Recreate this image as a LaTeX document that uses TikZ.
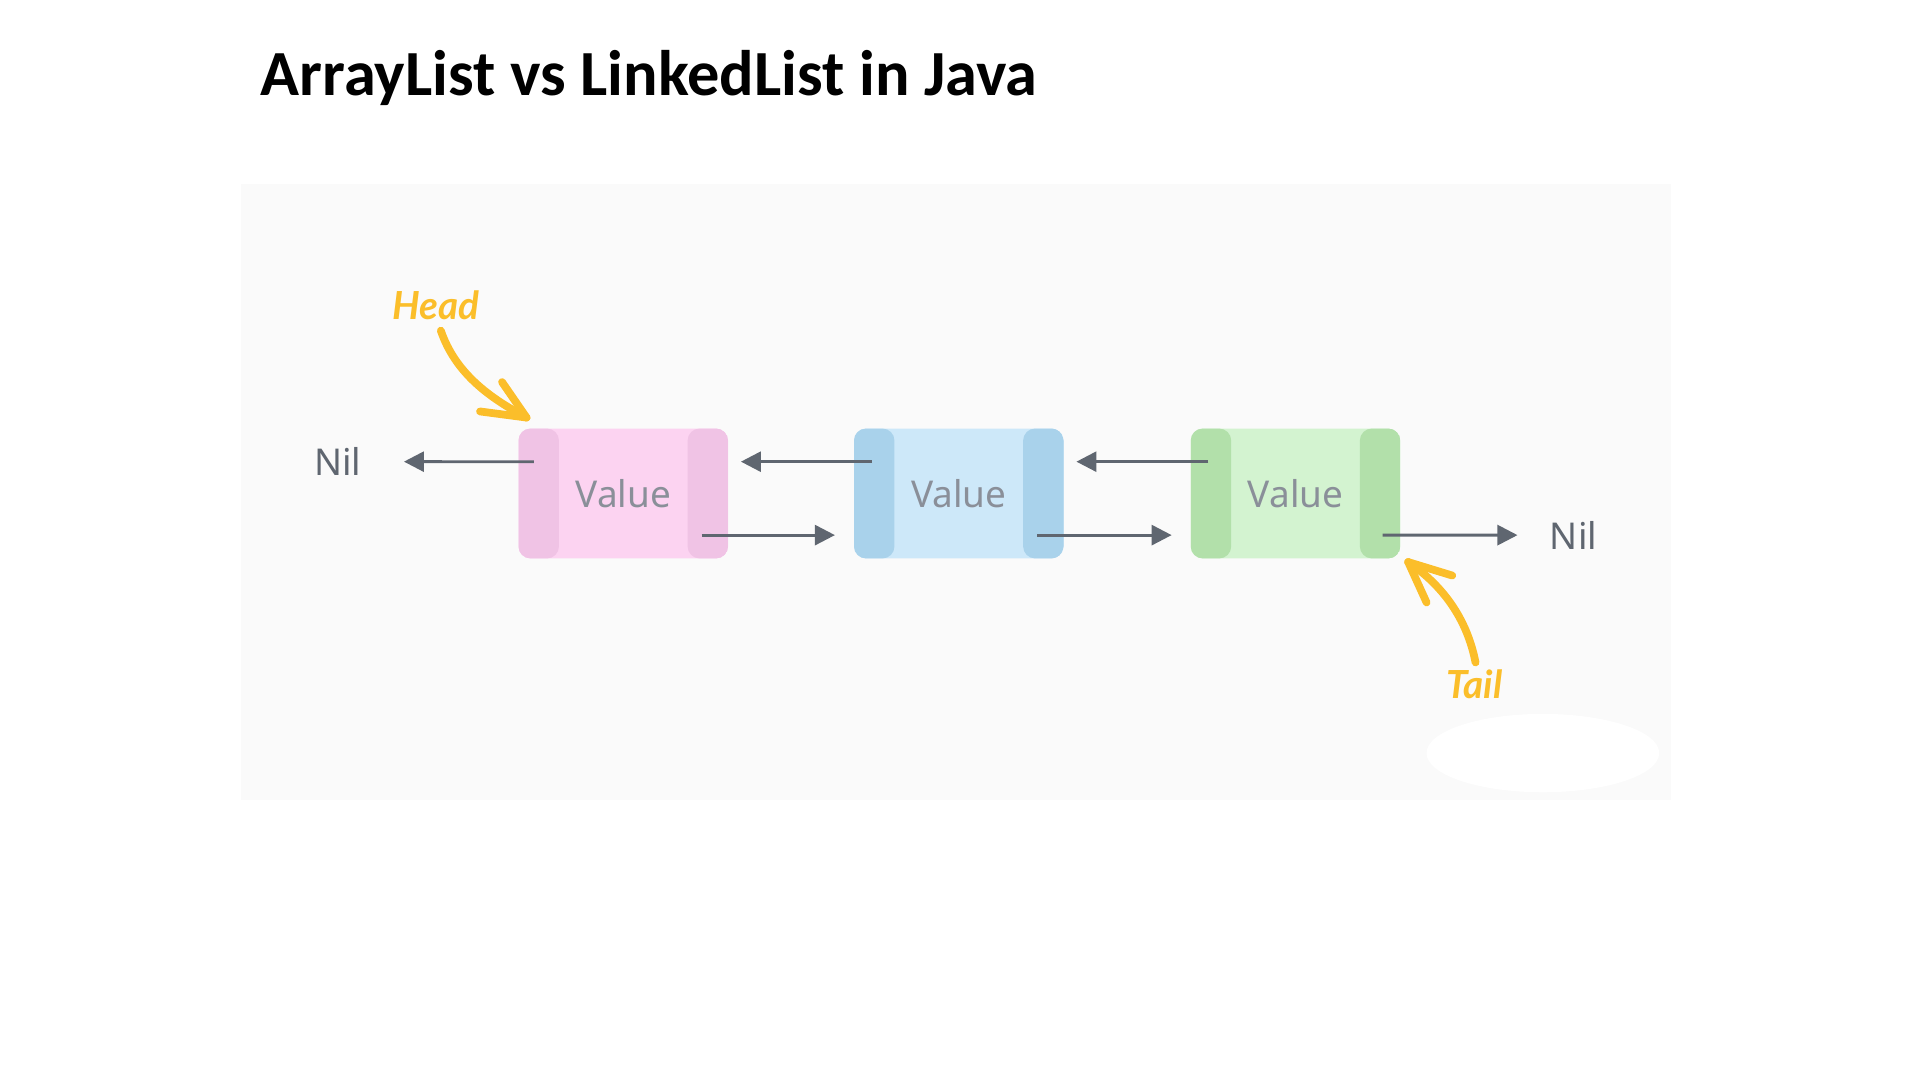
\documentclass[tikz,border=0pt]{standalone}
\usepackage{fontspec}
\setmainfont{Noto Sans}
\newfontfamily\titlefont{Carlito}
\newfontfamily\tagfont{Lato}
\usetikzlibrary{positioning,arrows.meta,calc}
\definecolor{panelbg}{HTML}{FAFAFA}
\definecolor{pinklt}{HTML}{FCD3F1}
\definecolor{pinkdk}{HTML}{F0C3E5}
\definecolor{bluelt}{HTML}{CDE8F9}
\definecolor{bluedk}{HTML}{A9D2EB}
\definecolor{greenlt}{HTML}{D3F3D0}
\definecolor{greendk}{HTML}{B2E0AA}
\definecolor{valgray}{HTML}{8A8F99}
\definecolor{ptrgray}{HTML}{5F6670}
\definecolor{tagyellow}{HTML}{FBBE2A}
\tikzset{
  cell/.style={minimum width=2.094cm, minimum height=1.298cm, rounded corners=0.12cm,
    text=valgray, font=\fontsize{10.5}{13}\selectfont},
  ptr/.style={-{Triangle[length=2mm,width=2mm]}, ptrgray, line width=0.8pt},
  nil/.style={text=ptrgray, font=\fontsize{10.5}{13}\selectfont},
  tag/.style={text=tagyellow, font=\tagfont\fontsize{11}{13}\selectfont\bfseries\itshape},
  hand/.style={tagyellow, line width=2.2pt, line cap=round}
}
\begin{document}
\begin{tikzpicture}[x=0.012245cm, y=-0.012245cm]
  \useasboundingbox (0,0) rectangle (1568,882);
  \fill[white] (0,0) rectangle (1568,882);

  % panel
  \fill[panelbg] (197,150) rectangle (1365,653);
  \fill[white] (1260,615) ellipse (95 and 32);

  \node[anchor=west, font=\titlefont\fontsize{18.3}{22}\selectfont\bfseries] (title) at (203,64) {ArrayList vs LinkedList in Java};

  % cells
  \foreach \nm/\cx/\lt/\dk in {n1/509/pinklt/pinkdk, n2/783/bluelt/bluedk, n3/1058/greenlt/greendk} {
    \node[cell, fill=\lt, path picture={
        \fill[\dk] (path picture bounding box.south west) rectangle ++(0.404cm,1.298cm);
        \fill[\dk] (path picture bounding box.south east) rectangle ++(-0.404cm,1.298cm);
      }] (\nm) at (\cx,403) {Value};
  }

  \node[nil] (nilL) at (276,377) {Nil};
  \node[nil] (nilR) at (1285,437) {Nil};

  % pointers
  \draw[ptr] ([xshift=0.16cm, yshift=0.318cm]n1.west) -- ([xshift=0.3cm]nilL.east);
  \draw[ptr] ([xshift=0.184cm, yshift=0.318cm]n2.west) -- ([xshift=0.122cm, yshift=0.318cm]n1.east);
  \draw[ptr] ([xshift=0.184cm, yshift=0.318cm]n3.west) -- ([xshift=0.122cm, yshift=0.318cm]n2.east);
  \draw[ptr] ([xshift=-0.27cm, yshift=-0.416cm]n1.east) -- ([xshift=-0.184cm, yshift=-0.416cm]n2.west);
  \draw[ptr] ([xshift=-0.27cm, yshift=-0.416cm]n2.east) -- ([xshift=-0.184cm, yshift=-0.416cm]n3.west);
  \draw[ptr] ([xshift=-0.184cm, yshift=-0.416cm]n3.east) -- ([xshift=-0.2cm]nilR.west);

  % head / tail
  \node[tag] (head) at (356,249) {Head};
  \node[tag] (tail) at (1204,559) {Tail};
  \coordinate (hTip) at (430,341);
  \coordinate (tTip) at (1150,459);
  \draw[hand] (360,270) .. controls (372,305) and (400,325) .. (hTip);
  \draw[hand] (hTip) -- (392,336);
  \draw[hand] (hTip) -- (410,312);
  \draw[hand] (1205,541) .. controls (1198,505) and (1178,478) .. (tTip);
  \draw[hand] (tTip) -- (1186,470);
  \draw[hand] (tTip) -- (1165,492);
\end{tikzpicture}
\end{document}
